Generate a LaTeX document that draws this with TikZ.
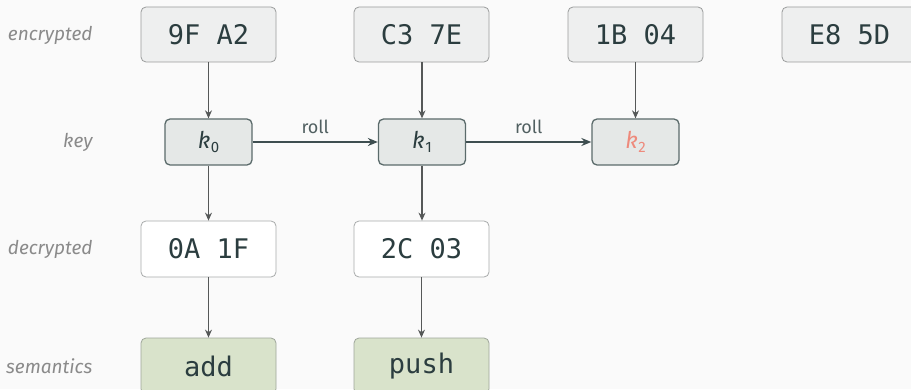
\documentclass[tikz,border=0pt]{standalone}
\usepackage{fontspec}
\setmainfont{Fira Sans}
\newfontfamily\codefont{DejaVu Sans Mono}
\usetikzlibrary{arrows.meta}
\definecolor{bgc}{HTML}{FAFAFA}
\definecolor{encfill}{HTML}{EEEFEF}
\definecolor{encdraw}{HTML}{9A9C9C}
\definecolor{keyfill}{HTML}{E5E8E7}
\definecolor{keydraw}{HTML}{5B6B6B}
\definecolor{decdraw}{HTML}{A8ABAB}
\definecolor{semfill}{HTML}{D9E3CB}
\definecolor{semdraw}{HTML}{9EA59A}
\definecolor{txt}{HTML}{2B3D3F}
\definecolor{arr}{HTML}{555858}
\definecolor{rollc}{HTML}{3E4E50}
\definecolor{kred}{HTML}{EE8A7C}
\definecolor{lab}{HTML}{8A8A8A}
\newcommand{\kk}[1]{{\itshape k}\kern0.5pt\raisebox{-0.35ex}{\fontsize{15}{15}\selectfont #1}}
\tikzset{
  x=1pt, y=1pt,
  cell/.style={rounded corners=5pt, minimum width=135pt, minimum height=55pt,
    inner sep=0pt, text=txt, font=\codefont\fontsize{27}{27}\selectfont, line width=0.8pt},
  encbox/.style={cell, fill=encfill, draw=encdraw},
  decbox/.style={cell, fill=white, draw=decdraw, minimum height=56pt},
  sembox/.style={cell, fill=semfill, draw=semdraw, minimum height=56pt},
  keybox/.style={rounded corners=5pt, minimum width=87pt, minimum height=46pt, inner sep=0pt,
    fill=keyfill, draw=keydraw, line width=1.3pt, text=txt, font=\fontsize{23}{23}\selectfont},
  rowlab/.style={anchor=east, text=lab, font=\itshape\fontsize{19}{19}\selectfont},
  varr/.style={draw=arr, line width=1.1pt, -{Stealth[length=8pt,width=7pt]}},
  rarr/.style={draw=rollc, line width=2.2pt, -{Stealth[length=10pt,width=8pt]}},
  rolllab/.style={text=rollc!90, font=\fontsize{18}{18}\selectfont}
}
\begin{document}
\begin{tikzpicture}
\fill[bgc] (0,0) rectangle (911,389);
\useasboundingbox (0,0) rectangle (911,389);
% row labels
\node[rowlab] (le) at (96,354) {encrypted};
\node[rowlab] (lk) at (96,247) {key};
\node[rowlab] (ld) at (96,140) {decrypted};
\node[rowlab] (ls) at (96,23) {semantics};
% encrypted
\node[encbox] (e0) at (208.5,354.5) {9F A2};
\node[encbox] (e1) at (421.5,354.5) {C3 7E};
\node[encbox] (e2) at (635.5,354.5) {1B 04};
\node[encbox] (e3) at (849.5,354.5) {E8 5D};
% keys
\node[keybox] (k0) at (208.5,247) {\kk{0}};
\node[keybox] (k1) at (422,247) {\kk{1}};
\node[keybox, text=kred] (k2) at (635.5,247) {\kk{2}};
% decrypted
\node[decbox] (d0) at (208.5,140) {0A 1F};
\node[decbox] (d1) at (421.5,140) {2C 03};
% semantics
\node[sembox] (s0) at (208.5,23) {add};
\node[sembox] (s1) at (421.5,23) {push};
% arrows
\draw[varr] (e0) -- (k0);
\draw[varr] (e1.south -| k1) -- (k1);
\draw[varr] (e2) -- (k2);
\draw[varr] (k0) -- (d0);
\draw[varr] (k1.south) -- (d1.north -| k1);
\draw[varr] (d0) -- (s0);
\draw[varr] (d1) -- (s1);
\draw[rarr] (k0) -- node[rolllab, above=4pt] {roll} (k1);
\draw[rarr] (k1) -- node[rolllab, above=4pt] {roll} (k2);
\end{tikzpicture}
\end{document}
